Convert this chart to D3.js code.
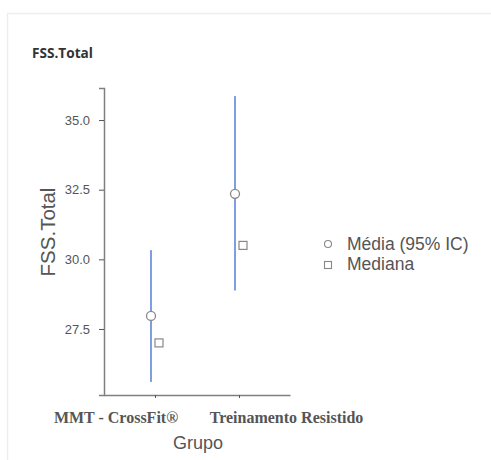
<!DOCTYPE html>
<html>
<head>
<meta charset="utf-8">
<script src="https://cdn.jsdelivr.net/npm/d3@7"></script>
<style>
  body { margin: 0; background: #fff; }
</style>
</head>
<body>
<svg id="chart" width="491" height="460"></svg>
<script>
// data
const groups = ['MMT - CrossFit®', 'Treinamento Resistido']
const means = [27.97, 32.35]
const ciLow = [25.6, 28.88]
const ciHigh = [30.33, 35.86]
const medians = [27.0, 30.5]
const yTicks = [27.5, 30.0, 32.5, 35.0]
const legendLabels = ['Média (95% IC)', 'Mediana']

const svg = d3.select('#chart')

// faint frame of the original screenshot
svg.append('path')
  .attr('d', 'M7.5,460 L7.5,13.5 L491,13.5')
  .attr('fill', 'none')
  .attr('stroke', '#eeeeee')
  .attr('stroke-width', 1.5)

// title
svg.append('text')
  .attr('x', 32)
  .attr('y', 57.5)
  .attr('font-family', 'Open Sans, sans-serif')
  .attr('font-weight', 'bold')
  .attr('font-size', 15)
  .attr('fill', '#333')
  .attr('textLength', 61)
  .attr('lengthAdjust', 'spacingAndGlyphs')
  .text('FSS.Total')

const plotLeft = 104, plotRight = 290, plotTop = 88, plotBottom = 395

const x = d3.scalePoint().domain(groups).range([plotLeft, plotRight]).padding(0.607)
const y = d3.scaleLinear().domain([25.13, 36.15]).range([plotBottom, plotTop])

const g = svg.append('g')

// y axis
const yAxis = g.append('g')
  .attr('transform', `translate(${plotLeft},0)`)
  .call(d3.axisLeft(y).tickValues(yTicks).tickFormat(d3.format('.1f')).tickSize(5).tickPadding(9))
yAxis.select('.domain').attr('stroke', '#7f7f7f').attr('stroke-width', 1.5)
yAxis.selectAll('.tick line').attr('stroke', '#555')
yAxis.selectAll('.tick text')
  .attr('font-family', 'Liberation Sans, Arial, sans-serif')
  .attr('font-size', 13)
  .attr('fill', '#555')

// x axis
const xAxis = g.append('g')
  .attr('transform', `translate(0,${plotBottom})`)
  .call(d3.axisBottom(x).tickSize(3).tickSizeOuter(0).tickFormat(''))
xAxis.select('.domain').attr('stroke', '#7f7f7f').attr('stroke-width', 1.5)
xAxis.selectAll('.tick line').attr('stroke', '#555')

// x category labels (pasted over in the original, not centred on ticks)
const labelShift = [-39, 47.5]
g.selectAll('.xlab')
  .data(groups)
  .enter()
  .append('text')
  .attr('class', 'xlab')
  .attr('x', (d, i) => x(d) + labelShift[i])
  .attr('y', 423)
  .attr('text-anchor', 'middle')
  .attr('font-family', 'Liberation Serif, Times New Roman, serif')
  .attr('font-weight', 'bold')
  .attr('font-size', 16)
  .attr('fill', '#555')
  .text((d) => d)

// axis titles
svg.append('text')
  .attr('x', 198)
  .attr('y', 449)
  .attr('text-anchor', 'middle')
  .attr('font-family', 'Liberation Sans, Arial, sans-serif')
  .attr('font-size', 18)
  .attr('fill', '#555')
  .text('Grupo')

svg.append('text')
  .attr('transform', 'translate(55,232) rotate(-90)')
  .attr('text-anchor', 'middle')
  .attr('font-family', 'Liberation Sans, Arial, sans-serif')
  .attr('font-size', 20.5)
  .attr('fill', '#555')
  .text('FSS.Total')

// error bars
g.selectAll('.ci')
  .data(groups)
  .enter()
  .append('line')
  .attr('x1', (d) => x(d) - 4)
  .attr('x2', (d) => x(d) - 4)
  .attr('y1', (d, i) => y(ciLow[i]))
  .attr('y2', (d, i) => y(ciHigh[i]))
  .attr('stroke', '#7d9fe0')
  .attr('stroke-width', 2)

// means
g.selectAll('.mean')
  .data(groups)
  .enter()
  .append('circle')
  .attr('cx', (d) => x(d) - 4)
  .attr('cy', (d, i) => y(means[i]))
  .attr('r', 4.5)
  .attr('fill', '#fff')
  .attr('stroke', '#888')
  .attr('stroke-width', 1.3)

// medians
g.selectAll('.median')
  .data(groups)
  .enter()
  .append('rect')
  .attr('x', (d) => x(d))
  .attr('y', (d, i) => y(medians[i]) - 4)
  .attr('width', 8)
  .attr('height', 8)
  .attr('fill', '#fff')
  .attr('stroke', '#888')
  .attr('stroke-width', 1.2)

// legend
const legend = svg.append('g').attr('transform', 'translate(328,244)')
legend.append('circle')
  .attr('cx', 0).attr('cy', 0).attr('r', 3.5)
  .attr('fill', '#fff').attr('stroke', '#888').attr('stroke-width', 1.1)
legend.append('rect')
  .attr('x', -3.5).attr('y', 17.5).attr('width', 7).attr('height', 7)
  .attr('fill', '#fff').attr('stroke', '#888').attr('stroke-width', 1.1)
legend.selectAll('text')
  .data(legendLabels)
  .enter()
  .append('text')
  .attr('x', 19)
  .attr('y', (d, i) => 6 + i * 20)
  .attr('font-family', 'Liberation Sans, Arial, sans-serif')
  .attr('font-size', 17.5)
  .attr('fill', '#555')
  .text((d) => d)
</script>
</body>
</html>
